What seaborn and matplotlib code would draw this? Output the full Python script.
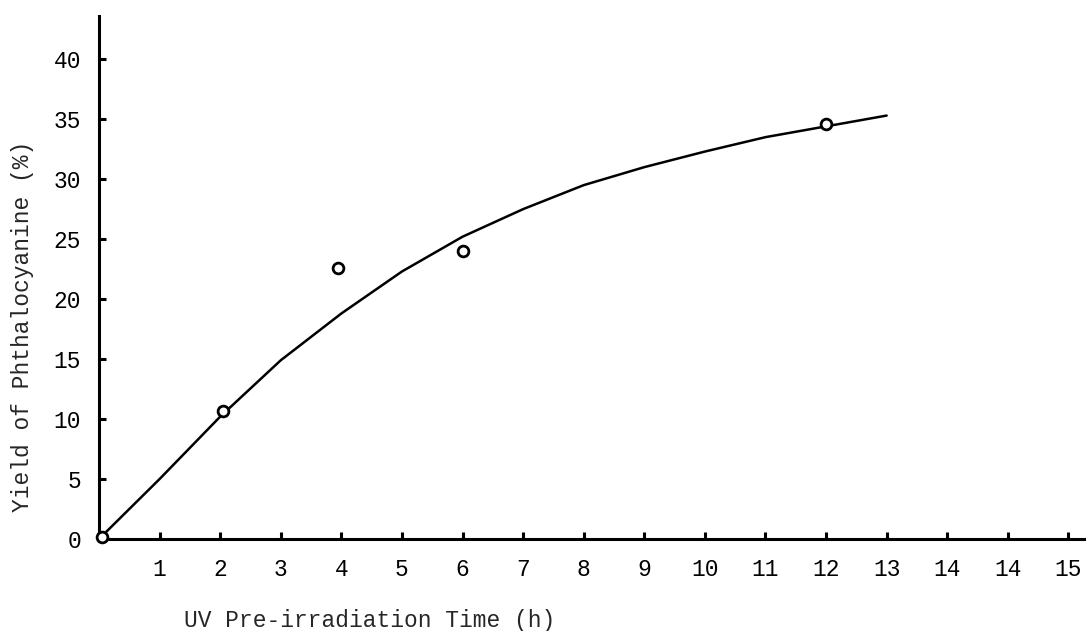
import matplotlib
matplotlib.use("Agg")
import matplotlib.pyplot as plt
import seaborn as sns
import pandas as pd

# measured points
time_h = [0.05, 2.05, 3.95, 6.0, 12.0]
yield_pct = [0.2, 10.7, 22.6, 24.0, 34.6]

# fitted curve
curve_x = [0, 1, 2, 3, 4, 5, 6, 7, 8, 9, 10, 11, 12, 13]
curve_y = [0, 5.0, 10.2, 14.9, 18.8, 22.3, 25.2, 27.5, 29.5, 31.0, 32.3, 33.5, 34.4, 35.3]

# tick labels as printed (14 appears twice)
x_ticks = list(range(1, 17))
x_tick_labels = ["1", "2", "3", "4", "5", "6", "7", "8", "9", "10",
                 "11", "12", "13", "14", "14", "15"]
y_ticks = [0, 5, 10, 15, 20, 25, 30, 35, 40]

sns.set_style("ticks")
plt.rcParams["font.family"] = ["Liberation Mono", "DejaVu Sans Mono"]

fig = plt.figure(figsize=(10.86, 6.31), dpi=100)
ax = fig.add_axes([99 / 1086, 92 / 631, 987 / 1086, 523 / 631])

pts = pd.DataFrame({"x": time_h, "y": yield_pct})
crv = pd.DataFrame({"x": curve_x, "y": curve_y})

sns.lineplot(data=crv, x="x", y="y", ax=ax, color="black", linewidth=1.8)
sns.scatterplot(data=pts, x="x", y="y", ax=ax, s=60, marker="o",
                facecolor="white", edgecolor="black", linewidth=2.0,
                zorder=5, clip_on=False)

ax.set_xlim(0, 16.29)
ax.set_ylim(0, 43.6)
ax.set_xticks(x_ticks)
ax.set_xticklabels(x_tick_labels)
ax.set_yticks(y_ticks)

sns.despine(ax=ax)
for side in ["left", "bottom"]:
    ax.spines[side].set_linewidth(2.2)
    ax.spines[side].set_color("black")

ax.tick_params(axis="both", direction="in", length=5, width=2.2,
               colors="black", labelsize=16.5)
ax.tick_params(axis="x", pad=14)
ax.tick_params(axis="y", pad=13)

ax.set_xlabel("UV Pre-irradiation Time (h)", fontsize=16.5)
ax.set_ylabel("Yield of Phthalocyanine (%)", fontsize=16.5)
ax.xaxis.set_label_coords(0.2746, -0.134)
ax.yaxis.set_label_coords(-0.066, 0.407)

fig.savefig("out.png", dpi=100)
